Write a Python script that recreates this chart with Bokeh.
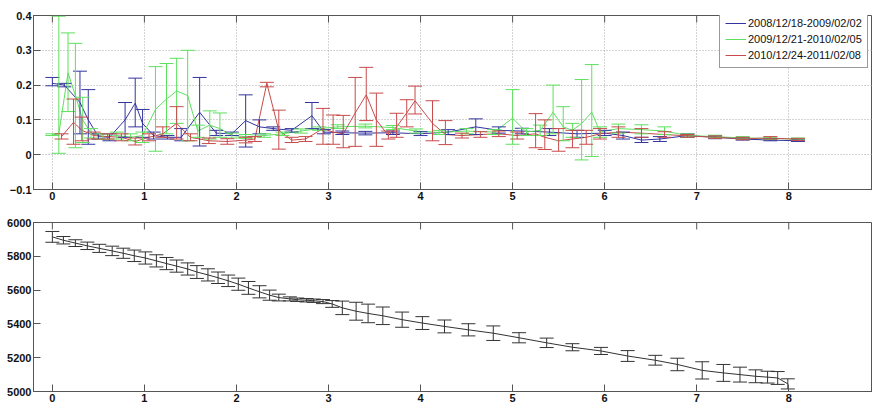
import numpy as np
from bokeh.plotting import figure
from bokeh.models import (Range1d, Whisker, TeeHead, ColumnDataSource,
                          Legend, LegendItem, AllLabels)
from bokeh.layouts import column
from bokeh.embed import file_html
from bokeh.resources import INLINE

# ---- upper panel: three winter seasons (mean with lower/upper bounds) ----
season_labels = ["2008/12/18-2009/02/02", "2009/12/21-2010/02/05", "2010/12/24-2011/02/08"]
season_colors = ["#34349e", "#5ee05e", "#c84a4a"]

blue_x = [0.00, 0.13, 0.30, 0.39, 0.50, 0.62, 0.79, 0.90, 0.98, 1.10, 1.25, 1.40, 1.60, 1.78,
          1.95, 2.10, 2.25, 2.40, 2.60, 2.82, 2.95, 3.15, 3.40, 3.70, 4.00, 4.30, 4.60, 4.85,
          5.10, 5.40, 5.70, 6.00, 6.20, 6.40, 6.60, 6.90, 7.20, 7.50, 7.80, 8.10]
blue_y = [0.205, 0.200, 0.150, 0.100, 0.052, 0.050, 0.100, 0.148, 0.090, 0.055, 0.050, 0.050,
          0.122, 0.062, 0.060, 0.098, 0.080, 0.075, 0.070, 0.112, 0.065, 0.063, 0.062, 0.063,
          0.060, 0.065, 0.080, 0.070, 0.068, 0.065, 0.060, 0.062, 0.055, 0.042, 0.045, 0.055,
          0.050, 0.045, 0.042, 0.040]
blue_lo = [0.198, 0.195, 0.060, 0.030, 0.045, 0.040, 0.050, 0.080, 0.050, 0.045, 0.045, 0.040,
           0.025, 0.055, 0.055, 0.022, 0.060, 0.070, 0.065, 0.075, 0.060, 0.058, 0.057, 0.058,
           0.055, 0.058, 0.058, 0.062, 0.060, 0.055, 0.050, 0.055, 0.045, 0.035, 0.038, 0.050,
           0.046, 0.042, 0.040, 0.038]
blue_hi = [0.222, 0.205, 0.240, 0.187, 0.060, 0.060, 0.150, 0.220, 0.130, 0.065, 0.055, 0.075,
           0.222, 0.070, 0.065, 0.172, 0.100, 0.080, 0.075, 0.150, 0.072, 0.068, 0.067, 0.068,
           0.066, 0.072, 0.103, 0.080, 0.076, 0.075, 0.070, 0.070, 0.065, 0.050, 0.052, 0.060,
           0.054, 0.048, 0.045, 0.043]

green_x = [0.00, 0.07, 0.17, 0.25, 0.33, 0.42, 0.55, 0.70, 0.85, 0.98, 1.12, 1.24, 1.35, 1.47,
           1.58, 1.71, 1.82, 1.95, 2.10, 2.30, 2.50, 2.70, 2.90, 3.10, 3.40, 3.70, 3.95, 4.20,
           4.50, 4.80, 5.00, 5.15, 5.30, 5.44, 5.55, 5.65, 5.75, 5.86, 5.95, 6.15, 6.40, 6.65,
           6.90, 7.20, 7.50, 7.80, 8.10]
green_y = [0.058, 0.060, 0.235, 0.170, 0.100, 0.062, 0.052, 0.055, 0.050, 0.055, 0.130, 0.160,
           0.183, 0.170, 0.068, 0.085, 0.075, 0.055, 0.052, 0.055, 0.060, 0.068, 0.075, 0.080,
           0.082, 0.078, 0.068, 0.064, 0.068, 0.065, 0.105, 0.065, 0.070, 0.122, 0.080, 0.070,
           0.090, 0.122, 0.065, 0.075, 0.072, 0.068, 0.055, 0.052, 0.048, 0.047, 0.045]
green_lo = [0.055, 0.004, 0.124, 0.020, 0.035, 0.048, 0.044, 0.045, 0.040, 0.035, 0.010, 0.060,
            0.090, 0.040, 0.050, 0.045, 0.050, 0.048, 0.047, 0.050, 0.055, 0.062, 0.070, 0.075,
            0.077, 0.072, 0.062, 0.058, 0.060, 0.058, 0.030, 0.055, 0.055, 0.060, 0.040, 0.050,
            -0.015, -0.005, 0.050, 0.062, 0.060, 0.058, 0.050, 0.048, 0.045, 0.044, 0.042]
green_hi = [0.060, 0.398, 0.350, 0.320, 0.165, 0.075, 0.060, 0.065, 0.060, 0.065, 0.253, 0.262,
            0.277, 0.300, 0.085, 0.126, 0.120, 0.062, 0.058, 0.060, 0.065, 0.074, 0.080, 0.086,
            0.088, 0.084, 0.074, 0.070, 0.075, 0.072, 0.187, 0.075, 0.085, 0.200, 0.138, 0.090,
            0.216, 0.259, 0.080, 0.088, 0.086, 0.080, 0.060, 0.056, 0.052, 0.050, 0.048]

red_x = [0.10, 0.23, 0.32, 0.45, 0.60, 0.75, 0.90, 1.05, 1.20, 1.35, 1.50, 1.70, 1.90, 2.10,
         2.20, 2.33, 2.46, 2.60, 2.75, 2.94, 3.05, 3.16, 3.29, 3.41, 3.52, 3.65, 3.74, 3.85,
         3.94, 4.13, 4.27, 4.45, 4.65, 4.85, 5.05, 5.25, 5.35, 5.50, 5.65, 5.80, 5.95, 6.15,
         6.40, 6.65, 6.90, 7.20, 7.50, 7.80, 8.10]
red_y = [0.052, 0.093, 0.070, 0.055, 0.052, 0.050, 0.038, 0.050, 0.060, 0.090, 0.050, 0.040,
         0.038, 0.042, 0.045, 0.205, 0.070, 0.042, 0.045, 0.075, 0.065, 0.060, 0.120, 0.172,
         0.100, 0.055, 0.080, 0.120, 0.155, 0.090, 0.058, 0.055, 0.058, 0.060, 0.055, 0.060,
         0.050, 0.040, 0.045, 0.050, 0.060, 0.065, 0.062, 0.058, 0.054, 0.050, 0.046, 0.048,
         0.044]
red_lo = [0.045, 0.030, 0.040, 0.045, 0.045, 0.040, 0.028, 0.040, 0.050, 0.045, 0.040, 0.032,
          0.030, 0.034, 0.038, 0.195, 0.016, 0.035, 0.038, 0.030, 0.030, 0.020, 0.024, 0.098,
          0.024, 0.045, 0.050, 0.080, 0.117, 0.040, 0.029, 0.048, 0.050, 0.052, 0.045, 0.020,
          0.015, 0.010, 0.020, 0.030, 0.045, 0.050, 0.050, 0.050, 0.050, 0.047, 0.043, 0.045,
          0.041]
red_hi = [0.060, 0.160, 0.108, 0.065, 0.060, 0.060, 0.048, 0.060, 0.080, 0.138, 0.060, 0.048,
          0.046, 0.050, 0.052, 0.208, 0.128, 0.050, 0.052, 0.133, 0.114, 0.113, 0.222, 0.251,
          0.177, 0.068, 0.119, 0.158, 0.197, 0.155, 0.098, 0.062, 0.066, 0.068, 0.065, 0.118,
          0.100, 0.075, 0.070, 0.070, 0.075, 0.080, 0.075, 0.066, 0.058, 0.054, 0.050, 0.052,
          0.047]

# ---- lower panel: single series with symmetric error ----
level_x = [0.00, 0.12, 0.25, 0.38, 0.51, 0.65, 0.77, 0.89, 1.01, 1.13, 1.24, 1.35, 1.47, 1.57,
           1.69, 1.80, 1.91, 2.02, 2.13, 2.25, 2.36, 2.46, 2.58, 2.66, 2.76, 2.84, 2.94, 3.04,
           3.15, 3.30, 3.43, 3.59, 3.80, 4.02, 4.26, 4.52, 4.79, 5.07, 5.37, 5.65, 5.96, 6.25,
           6.55, 6.79, 7.06, 7.29, 7.47, 7.64, 7.77, 7.88, 7.99]
level_y = [5915, 5895, 5878, 5862, 5847, 5832, 5818, 5803, 5790, 5773, 5757, 5742, 5725, 5707,
           5690, 5673, 5655, 5635, 5613, 5590, 5570, 5556, 5548, 5543, 5540, 5537, 5532, 5518,
           5495, 5475, 5462, 5448, 5425, 5405, 5385, 5365, 5345, 5318, 5288, 5262, 5240, 5210,
           5185, 5160, 5125, 5110, 5100, 5090, 5085, 5080, 5045]
level_err = [32, 22, 20, 22, 24, 28, 30, 34, 36, 36, 36, 36, 36, 38, 36, 34, 34, 36, 38, 36,
             30, 20, 12, 10, 10, 10, 12, 20, 40, 53, 55, 52, 45, 38, 38, 36, 43, 30, 28, 21,
             21, 32, 29, 37, 51, 50, 44, 38, 35, 38, 30]

x_ticks = [0, 1, 2, 3, 4, 5, 6, 7, 8]
top_y_ticks = [-0.1, 0, 0.1, 0.2, 0.3, 0.4]
top_y_labels = ["-0.1", "0", "0.1", "0.2", "0.3", "0.4"]
bottom_y_ticks = [5000, 5200, 5400, 5600, 5800, 6000]

FONT = "Liberation Sans"
AXIS_COLOR = "#555555"
TEXT_COLOR = "#111111"
TICK_SIZE = "11px"
TICK_LEN = 7
X_RANGE = (-0.205, 8.91)
FRAME_W = 839


def style_axis(ax, ticks):
    ax.ticker = ticks
    ax.axis_line_color = AXIS_COLOR
    ax.major_tick_line_color = AXIS_COLOR
    ax.major_tick_in = TICK_LEN
    ax.major_tick_out = 0
    ax.minor_tick_line_color = None
    ax.major_label_policy = AllLabels()
    ax.major_label_text_font = FONT
    ax.major_label_text_font_size = TICK_SIZE
    ax.major_label_text_font_style = "bold"
    ax.major_label_text_color = TEXT_COLOR
    ax.major_label_standoff = 2


def base_figure(y_range, frame_h, top, bottom):
    p = figure(frame_width=FRAME_W, frame_height=frame_h,
               x_range=Range1d(*X_RANGE), y_range=Range1d(*y_range),
               output_backend="svg", toolbar_location=None,
               min_border_left=33, min_border_right=0,
               min_border_top=top, min_border_bottom=bottom)
    p.outline_line_color = AXIS_COLOR
    p.background_fill_color = "white"
    p.border_fill_color = "white"
    style_axis(p.xaxis[0], x_ticks)
    # inward tick marks along the top edge of the box
    tick_h = TICK_LEN * (y_range[1] - y_range[0]) / frame_h
    p.segment(x0=x_ticks, x1=x_ticks, y0=[y_range[1]] * len(x_ticks),
              y1=[y_range[1] - tick_h] * len(x_ticks), line_color=AXIS_COLOR, line_width=1)
    return p


# upper panel
p1 = base_figure((-0.1, 0.4), 174, 15, 18)
style_axis(p1.yaxis[0], top_y_ticks)
p1.yaxis[0].major_label_overrides = {str(t): s for t, s in zip(top_y_ticks, top_y_labels)}
for g in (p1.xgrid[0], p1.ygrid[0]):
    g.grid_line_color = "#a8a8a8"
    g.grid_line_dash = "1 2"
    g.grid_line_width = 1

series = [
    (blue_x, blue_y, blue_lo, blue_hi),
    (green_x, green_y, green_lo, green_hi),
    (red_x, red_y, red_lo, red_hi),
]
items = []
for (xs, ys, los, his), color, label in zip(series, season_colors, season_labels):
    src = ColumnDataSource(dict(x=xs, y=ys, lo=los, hi=his))
    p1.add_layout(Whisker(source=src, base="x", lower="lo", upper="hi", dimension="height",
                          line_color=color, line_width=1, level="glyph",
                          lower_head=TeeHead(size=14, line_color=color, line_width=1),
                          upper_head=TeeHead(size=14, line_color=color, line_width=1)))
    r = p1.line("x", "y", source=src, line_color=color, line_width=1)
    items.append(LegendItem(label=label, renderers=[r]))

legend = Legend(items=items, location=(686, 121), orientation="vertical",
                label_text_font=FONT, label_text_font_size="11px", label_text_color=TEXT_COLOR,
                glyph_width=21, glyph_height=14, label_height=14, label_standoff=2,
                spacing=2, padding=5, margin=0,
                border_line_color="#333333", border_line_width=1,
                background_fill_color="white", background_fill_alpha=1)
p1.add_layout(legend, "center")

# lower panel
p2 = base_figure((5000, 6000), 169, 15, 16)
style_axis(p2.yaxis[0], bottom_y_ticks)
p2.xgrid[0].visible = False
p2.ygrid[0].visible = False

lv_y = np.array(level_y, dtype=float)
lv_e = np.array(level_err, dtype=float)
src2 = ColumnDataSource(dict(x=level_x, y=lv_y, lo=lv_y - lv_e, hi=lv_y + lv_e))
p2.add_layout(Whisker(source=src2, base="x", lower="lo", upper="hi", dimension="height",
                      line_color="#333333", line_width=1, level="glyph",
                      lower_head=TeeHead(size=14, line_color="#333333", line_width=1),
                      upper_head=TeeHead(size=14, line_color="#333333", line_width=1)))
p2.line("x", "y", source=src2, line_color="#333333", line_width=1)

layout = column(p1, p2, spacing=0)
open("out.html", "w").write(file_html(layout, INLINE))
